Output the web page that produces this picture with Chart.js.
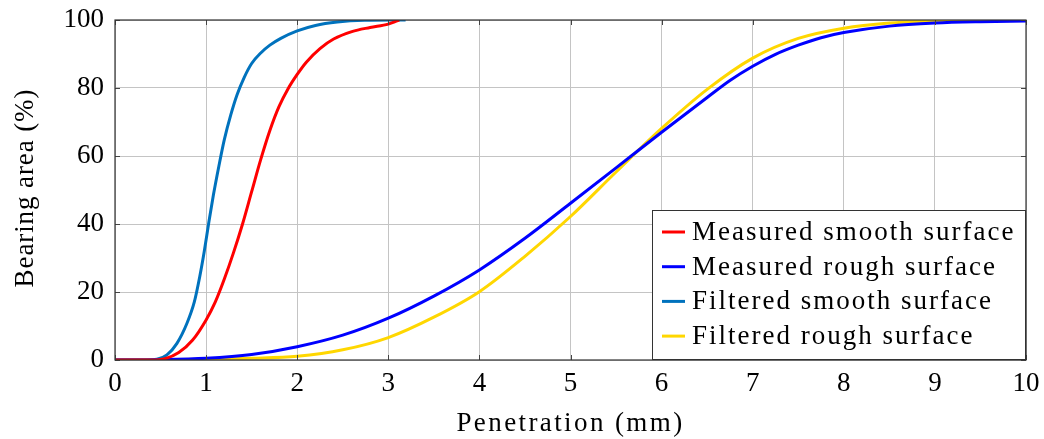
<!DOCTYPE html>
<html>
<head>
<meta charset="utf-8">
<script src="https://cdn.jsdelivr.net/npm/chart.js@4.4.1/dist/chart.umd.min.js"></script>
<style>
  html, body { margin: 0; padding: 0; background: #fff; }
  #wrap { width: 1044px; height: 439px; }
</style>
</head>
<body>
<div id="wrap"><canvas id="bearingChart" width="1044" height="439"></canvas></div>
<script>
// penetration (mm) / bearing area (%) pairs for each surface
const measuredSmoothX = [0, 0.4, 0.55, 0.7, 0.85, 1.0, 1.1, 1.2, 1.3, 1.4, 1.5, 1.6, 1.7, 1.8, 1.9, 2.0, 2.1, 2.25, 2.4, 2.6, 2.8, 3.0, 3.08, 3.12];
const measuredSmoothY = [0, 0, 0.4, 2.2, 5.8, 11.8, 17.0, 23.8, 31.5, 40.0, 49.5, 59.0, 67.5, 74.5, 79.8, 84.0, 87.6, 91.6, 94.4, 96.6, 97.8, 98.8, 99.6, 100];

const measuredRoughX = [0, 0.5, 1.0, 1.5, 2.0, 2.5, 3.0, 3.5, 4.0, 4.5, 5.0, 5.5, 6.0, 6.5, 6.75, 7.0, 7.25, 7.5, 7.75, 8.0, 8.5, 9.0, 9.5, 10.0];
const measuredRoughY = [0, 0.1, 0.5, 1.6, 3.9, 7.3, 12.3, 18.8, 26.5, 35.8, 46.1, 56.5, 67.0, 77.2, 82.2, 86.4, 89.9, 92.6, 94.8, 96.3, 98.2, 99.1, 99.5, 99.7];

const filteredSmoothX = [0, 0.35, 0.46, 0.57, 0.68, 0.79, 0.87, 0.93, 0.98, 1.03, 1.08, 1.14, 1.2, 1.27, 1.34, 1.42, 1.5, 1.6, 1.7, 1.82, 2.0, 2.2, 2.44, 2.74, 3.19];
const filteredSmoothY = [0, 0, 0.2, 1.5, 4.9, 10.8, 17.0, 24.5, 32.0, 40.5, 48.5, 57.0, 64.8, 72.0, 78.0, 83.2, 87.2, 90.3, 92.6, 94.6, 96.8, 98.4, 99.4, 99.9, 100];

const filteredRoughX = [0, 1.0, 1.5, 2.0, 2.5, 3.0, 3.5, 4.0, 4.5, 5.0, 5.5, 6.0, 6.5, 7.0, 7.5, 8.0, 8.5, 9.0, 10.0];
const filteredRoughY = [0, 0.2, 0.5, 1.1, 3.0, 6.6, 12.6, 20.1, 30.5, 42.2, 55.3, 68.1, 79.6, 88.8, 94.6, 97.6, 99.1, 99.7, 100];

const seriesNames = ['Measured smooth surface', 'Measured rough surface', 'Filtered smooth surface', 'Filtered rough surface'];
const seriesColors = ['#ff0000', '#0000ff', '#0072bd', '#ffd700'];

const xTicks = [0, 1, 2, 3, 4, 5, 6, 7, 8, 9, 10];
const yTicks = [0, 20, 40, 60, 80, 100];
const xTitle = 'Penetration (mm)';
const yTitle = 'Bearing area (%)';

const FONT = '"Liberation Serif", "DejaVu Serif", serif';

const toPoints = (xs, ys) => xs.map((x, i) => ({ x: x, y: ys[i] }));
const seriesData = [
    toPoints(measuredSmoothX, measuredSmoothY),
    toPoints(measuredRoughX, measuredRoughY),
    toPoints(filteredSmoothX, filteredSmoothY),
    toPoints(filteredRoughX, filteredRoughY)
];

// frame, inward tick marks, axis titles and the boxed legend in the lower right
const framePlugin = {
    id: 'frame',
    afterDatasetsDraw(chart) {
        const { ctx, chartArea: a, scales } = chart;
        ctx.save();
        ctx.strokeStyle = '#444';
        ctx.lineWidth = 1;
        ctx.beginPath();
        xTicks.forEach(t => {
            const px = Math.round(scales.x.getPixelForValue(t)) + 0.5;
            ctx.moveTo(px, a.bottom); ctx.lineTo(px, a.bottom - 5);
            ctx.moveTo(px, a.top); ctx.lineTo(px, a.top + 5);
        });
        yTicks.forEach(t => {
            const py = Math.round(scales.y.getPixelForValue(t)) + 0.5;
            ctx.moveTo(a.left, py); ctx.lineTo(a.left + 5, py);
            ctx.moveTo(a.right, py); ctx.lineTo(a.right - 5, py);
        });
        ctx.stroke();

        // legend box
        const bw = 374, bh = 150;
        const bx = a.right - bw, by = a.bottom - bh;
        ctx.fillStyle = '#fff';
        ctx.fillRect(bx, by, bw, bh);
        ctx.strokeStyle = '#333';
        ctx.strokeRect(bx + 0.5, by + 0.5, bw - 1, bh - 1);
        ctx.font = '27px ' + FONT;
        ctx.letterSpacing = '2px';
        ctx.textBaseline = 'middle';
        ctx.textAlign = 'left';
        chart.data.datasets.forEach((ds, i) => {
            const ly = by + 22 + i * 34.7;
            ctx.strokeStyle = ds.borderColor;
            ctx.lineWidth = 3;
            ctx.beginPath();
            ctx.moveTo(bx + 10, ly); ctx.lineTo(bx + 33, ly);
            ctx.stroke();
            ctx.fillStyle = '#000';
            ctx.fillText(ds.label, bx + 40, ly + 1);
        });

        // axis titles
        ctx.fillStyle = '#000';
        ctx.textAlign = 'center';
        ctx.letterSpacing = '2.4px';
        ctx.fillText(xTitle, (a.left + a.right) / 2, 424);
        ctx.save();
        ctx.translate(26, 188);
        ctx.rotate(-Math.PI / 2);
        ctx.letterSpacing = '0.9px';
        ctx.fillText(yTitle, 0, 0);
        ctx.restore();

        ctx.letterSpacing = '0px';
        ctx.strokeStyle = '#333';
        ctx.lineWidth = 1.2;
        ctx.strokeRect(a.left, a.top, a.right - a.left, a.bottom - a.top);
        ctx.restore();
    }
};

const grapharea = document.getElementById('bearingChart');
grapharea.chart = new Chart(grapharea, {
    type: 'line',
    data: {
        datasets: seriesData.map((pts, i) => ({
            label: seriesNames[i],
            data: pts,
            borderColor: seriesColors[i],
            backgroundColor: seriesColors[i],
            borderWidth: 3,
            pointRadius: 0,
            fill: false,
            cubicInterpolationMode: 'monotone'
        }))
    },
    options: {
        responsive: false,
        animation: false,
        layout: { padding: { left: 0, top: 20, right: 18, bottom: 0 } },
        plugins: {
            legend: { display: false },
            tooltip: { enabled: false }
        },
        scales: {
            x: {
                type: 'linear',
                min: 0,
                max: 10,
                afterBuildTicks: s => { s.ticks = xTicks.map(v => ({ value: v })); },
                afterFit: s => { s.height = 79; s.paddingLeft = 0; s.paddingRight = 0; },
                grid: { color: '#c4c4c4', lineWidth: 1, drawTicks: false },
                border: { display: false },
                ticks: { color: '#000', font: { family: FONT, size: 27 }, padding: 8, maxRotation: 0 }
            },
            y: {
                min: 0,
                max: 100,
                afterBuildTicks: s => { s.ticks = yTicks.map(v => ({ value: v })); },
                afterFit: s => { s.width = 115; s.paddingTop = 0; s.paddingBottom = 0; },
                grid: { color: '#c4c4c4', lineWidth: 1, drawTicks: false },
                border: { display: false },
                ticks: { color: '#000', font: { family: FONT, size: 27 }, padding: 11 }
            }
        }
    },
    plugins: [framePlugin]
});
</script>
</body>
</html>
